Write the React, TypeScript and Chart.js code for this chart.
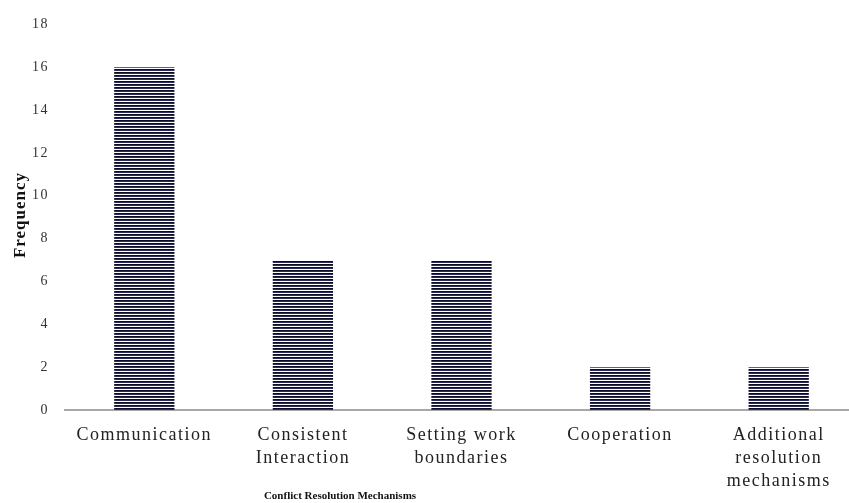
import React, { useEffect, useRef } from "react";
import { Chart, registerables } from "chart.js";

Chart.register(...registerables);

const categories: string[][] = [
  ["Communication"],
  ["Consistent", "Interaction"],
  ["Setting work", "boundaries"],
  ["Cooperation"],
  ["Additional", "resolution", "mechanisms"],
];
const frequencies: number[] = [16, 7, 7, 2, 2];
const yMin = 0;
const yMax = 18;
const yStep = 2;
const xTitle = "Conflict Resolution Mechanisms";
const yTitle = "Frequency";

const SERIF = "'Liberation Serif', 'Times New Roman', Times, serif";

function makePattern(): CanvasPattern | string {
  const c = document.createElement("canvas");
  c.width = 4;
  c.height = 3;
  const g = c.getContext("2d");
  if (!g) return "#222";
  g.fillStyle = "#0e0e22";
  g.fillRect(0, 0, 4, 1);
  g.fillStyle = "#2c2c5c";
  g.fillRect(0, 1, 4, 1);
  g.fillStyle = "#ffffff";
  g.fillRect(0, 2, 4, 1);
  const p = g.createPattern(c, "repeat");
  return p || "#222";
}

const titlePlugin = {
  id: "customTitles",
  beforeDraw(chart: any) {
    const ctx = chart.ctx as any;
    ctx.fillStyle = "#ffffff";
    ctx.fillRect(0, 0, chart.width, chart.height);
    ctx.letterSpacing = "1.5px";
  },
  afterDraw(chart: any) {
    const ctx = chart.ctx as any;
    ctx.save();
    ctx.fillStyle = "#111";
    ctx.textAlign = "center";
    ctx.textBaseline = "middle";
    ctx.letterSpacing = "0px";
    ctx.font = `bold 11px ${SERIF}`;
    ctx.fillText(xTitle, 340, 496);
    ctx.translate(21, 215);
    ctx.rotate(-Math.PI / 2);
    ctx.letterSpacing = "1px";
    ctx.font = `bold 17px ${SERIF}`;
    ctx.fillText(yTitle, 0, 0);
    ctx.restore();
  },
};

export default function App() {
  const ref = useRef<HTMLCanvasElement | null>(null);

  useEffect(() => {
    if (!ref.current) return;
    const pattern = makePattern();
    const chart = new Chart(ref.current, {
      type: "bar",
      data: {
        labels: categories as any,
        datasets: [
          {
            data: frequencies,
            backgroundColor: pattern as any,
            borderWidth: 0,
            categoryPercentage: 1,
            barPercentage: 0.38,
          },
        ],
      },
      options: {
        responsive: false,
        animation: false,
        devicePixelRatio: 1,
        layout: { padding: { top: 22, right: 12, left: 0, bottom: 0 } },
        plugins: {
          legend: { display: false },
          tooltip: { enabled: false },
          title: { display: false },
        },
        scales: {
          x: {
            grid: { display: false, drawTicks: false },
            border: { display: true, color: "#a8a8a8", width: 2 },
            ticks: {
              autoSkip: false,
              maxRotation: 0,
              minRotation: 0,
              padding: 14,
              color: "#222",
              font: { family: SERIF, size: 18, lineHeight: 23 / 18 },
            },
            afterFit: (s: any) => {
              s.height = 93;
            },
          },
          y: {
            min: yMin,
            max: yMax,
            grid: { display: false, drawTicks: false },
            border: { display: false },
            ticks: {
              stepSize: yStep,
              padding: 16,
              color: "#333",
              font: { family: SERIF, size: 14 },
            },
            afterFit: (s: any) => {
              s.width = 65;
            },
          },
        },
      },
      plugins: [titlePlugin],
    });
    return () => chart.destroy();
  }, []);

  return (
    <div
      style={{
        position: "absolute",
        left: 0,
        top: 0,
        width: 849,
        height: 503,
        overflow: "hidden",
        background: "#fff",
      }}
    >
      <canvas ref={ref} width={870} height={503} style={{ width: 870, height: 503, display: "block" }} />
    </div>
  );
}
